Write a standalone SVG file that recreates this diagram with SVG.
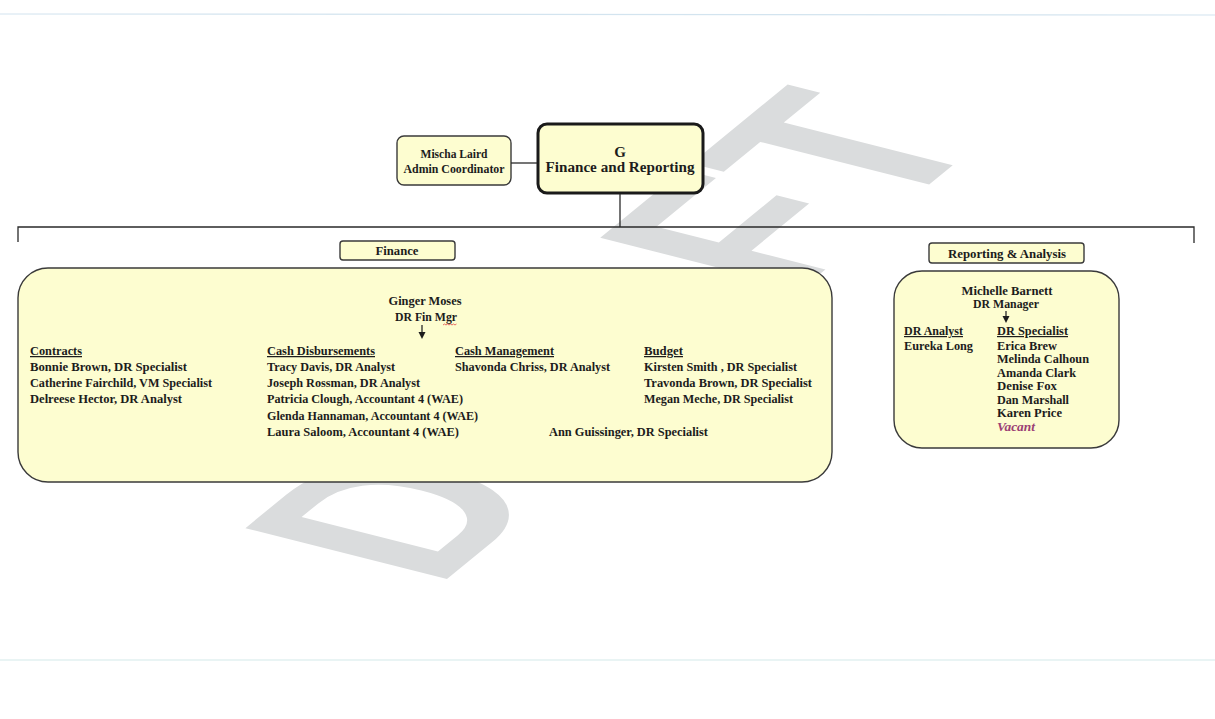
<svg xmlns="http://www.w3.org/2000/svg" width="1215" height="719" viewBox="0 0 1215 719">
<defs>
<style>
.t{font-family:"Liberation Serif","DejaVu Serif",serif;font-weight:bold;font-size:12.5px;fill:#1c1c1c}
.s{font-size:12px}
.c{text-anchor:middle}
.u{text-decoration:underline}
.box{fill:#fdfdd0;stroke:#3a3a3a;stroke-width:1.4}
.ln{stroke:#2a2a2a;stroke-width:1.3;fill:none}
.wm{font-family:"Liberation Sans","DejaVu Sans",sans-serif;font-weight:bold;font-size:100px;fill:#dadcdd}
</style>
</defs>
<rect width="1215" height="719" fill="#ffffff"/>
<line x1="0" y1="14" x2="1215" y2="15" stroke="#d3e4ef" stroke-width="1.2"/>
<line x1="0" y1="660" x2="1215" y2="660" stroke="#e2f1f1" stroke-width="1.5"/>
<text class="wm" transform="matrix(1.638 -1.34 2.93 0.74 436 588)">DRAFT</text>

<g id="node-g">
<rect x="538" y="124" width="165" height="69" rx="9" fill="#fdfdd0" stroke="#1a1a1a" stroke-width="3"/>
<text class="t c" x="620" y="157" font-size="15" style="font-size:15px">G</text>
<text class="t c" x="620" y="172" style="font-size:15px" textLength="149" lengthAdjust="spacingAndGlyphs">Finance and Reporting</text>
</g>

<g id="node-mischa">
<rect class="box" x="397" y="136" width="114" height="49" rx="7"/>
<text class="t s c" x="454" y="158" textLength="67" lengthAdjust="spacingAndGlyphs">Mischa Laird</text>
<text class="t s c" x="454" y="173" textLength="101" lengthAdjust="spacingAndGlyphs">Admin Coordinator</text>
</g>

<g id="label-finance">
<rect class="box" x="340" y="241" width="115" height="19" rx="3"/>
<text class="t s c" x="397" y="255" textLength="43" lengthAdjust="spacingAndGlyphs">Finance</text>
</g>

<g id="label-reporting">
<rect class="box" x="929" y="243" width="155" height="20" rx="3"/>
<text class="t s c" x="1007" y="258" textLength="118" lengthAdjust="spacingAndGlyphs">Reporting &amp; Analysis</text>
</g>

<g id="node-finance">
<rect class="box" x="18" y="268" width="814" height="214" rx="30"/>
<text class="t c" x="425" y="305" textLength="73" lengthAdjust="spacingAndGlyphs">Ginger Moses</text>
<text class="t c" x="426" y="321" textLength="62" lengthAdjust="spacingAndGlyphs">DR Fin Mgr</text>
<path d="M443,325 l1.5,-1 l1.5,1 l1.5,-1 l1.5,1 l1.5,-1 l1.5,1 l1.5,-1 l1.5,1 l1.5,-1" fill="none" stroke="#e04848" stroke-width="0.8"/>
<text class="t u" x="30" y="355" textLength="52" lengthAdjust="spacingAndGlyphs">Contracts</text>
<text class="t" x="30" y="371" textLength="157" lengthAdjust="spacingAndGlyphs">Bonnie Brown, DR Specialist</text>
<text class="t" x="30" y="387" textLength="182" lengthAdjust="spacingAndGlyphs">Catherine Fairchild, VM Specialist</text>
<text class="t" x="30" y="403" textLength="152" lengthAdjust="spacingAndGlyphs">Delreese Hector, DR Analyst</text>
<text class="t u" x="267" y="355" textLength="108" lengthAdjust="spacingAndGlyphs">Cash Disbursements</text>
<text class="t" x="267" y="371" textLength="128" lengthAdjust="spacingAndGlyphs">Tracy Davis, DR Analyst</text>
<text class="t" x="267" y="387" textLength="153" lengthAdjust="spacingAndGlyphs">Joseph Rossman, DR Analyst</text>
<text class="t" x="267" y="403" textLength="196" lengthAdjust="spacingAndGlyphs">Patricia Clough, Accountant 4 (WAE)</text>
<text class="t" x="267" y="420" textLength="211" lengthAdjust="spacingAndGlyphs">Glenda Hannaman, Accountant 4 (WAE)</text>
<text class="t" x="267" y="436" textLength="192" lengthAdjust="spacingAndGlyphs">Laura Saloom, Accountant 4 (WAE)</text>
<text class="t u" x="455" y="355" textLength="99" lengthAdjust="spacingAndGlyphs">Cash Management</text>
<text class="t" x="455" y="371" textLength="155" lengthAdjust="spacingAndGlyphs">Shavonda Chriss, DR Analyst</text>
<text class="t u" x="644" y="355" textLength="39" lengthAdjust="spacingAndGlyphs">Budget</text>
<text class="t" x="644" y="371" textLength="153" lengthAdjust="spacingAndGlyphs">Kirsten Smith , DR Specialist</text>
<text class="t" x="644" y="387" textLength="168" lengthAdjust="spacingAndGlyphs">Travonda Brown, DR Specialist</text>
<text class="t" x="644" y="403" textLength="149" lengthAdjust="spacingAndGlyphs">Megan Meche, DR Specialist</text>
<text class="t" x="549" y="436" textLength="159" lengthAdjust="spacingAndGlyphs">Ann Guissinger, DR Specialist</text>
</g>

<g id="node-reporting">
<rect class="box" x="894" y="271" width="225" height="177" rx="28"/>
<text class="t s c" x="1007" y="295" textLength="91" lengthAdjust="spacingAndGlyphs">Michelle Barnett</text>
<text class="t s c" x="1006" y="308" textLength="66" lengthAdjust="spacingAndGlyphs">DR Manager</text>
<text class="t s u" x="904" y="335" textLength="59" lengthAdjust="spacingAndGlyphs">DR Analyst</text>
<text class="t s" x="904" y="350" textLength="69" lengthAdjust="spacingAndGlyphs">Eureka Long</text>
<text class="t s u" x="997" y="335" textLength="71" lengthAdjust="spacingAndGlyphs">DR Specialist</text>
<text class="t s" x="997" y="350" textLength="60" lengthAdjust="spacingAndGlyphs">Erica Brew</text>
<text class="t s" x="997" y="363" textLength="92" lengthAdjust="spacingAndGlyphs">Melinda Calhoun</text>
<text class="t s" x="997" y="377" textLength="79" lengthAdjust="spacingAndGlyphs">Amanda Clark</text>
<text class="t s" x="997" y="390" textLength="60" lengthAdjust="spacingAndGlyphs">Denise Fox</text>
<text class="t s" x="997" y="404" textLength="72" lengthAdjust="spacingAndGlyphs">Dan Marshall</text>
<text class="t s" x="997" y="417" textLength="65" lengthAdjust="spacingAndGlyphs">Karen Price</text>
<text class="t s" x="997" y="431" textLength="38" lengthAdjust="spacingAndGlyphs" style="font-style:italic;fill:#9b3f75">Vacant</text>
</g>

<g id="connectors">
<line class="ln" x1="511" y1="163" x2="537" y2="163"/>
<line class="ln" x1="620" y1="194" x2="620" y2="227"/>
<polyline class="ln" points="18,242 18,227 1194,227 1194,243"/>
<line class="ln" x1="422" y1="325" x2="422" y2="332" stroke-width="1.2"/>
<path d="M418.5,332 L425.5,332 L422,339 Z" fill="#1c1c1c"/>
<line class="ln" x1="1006" y1="311" x2="1006" y2="317" stroke-width="1.2"/>
<path d="M1002.5,316 L1009.5,316 L1006,323 Z" fill="#1c1c1c"/>
</g>
</svg>
